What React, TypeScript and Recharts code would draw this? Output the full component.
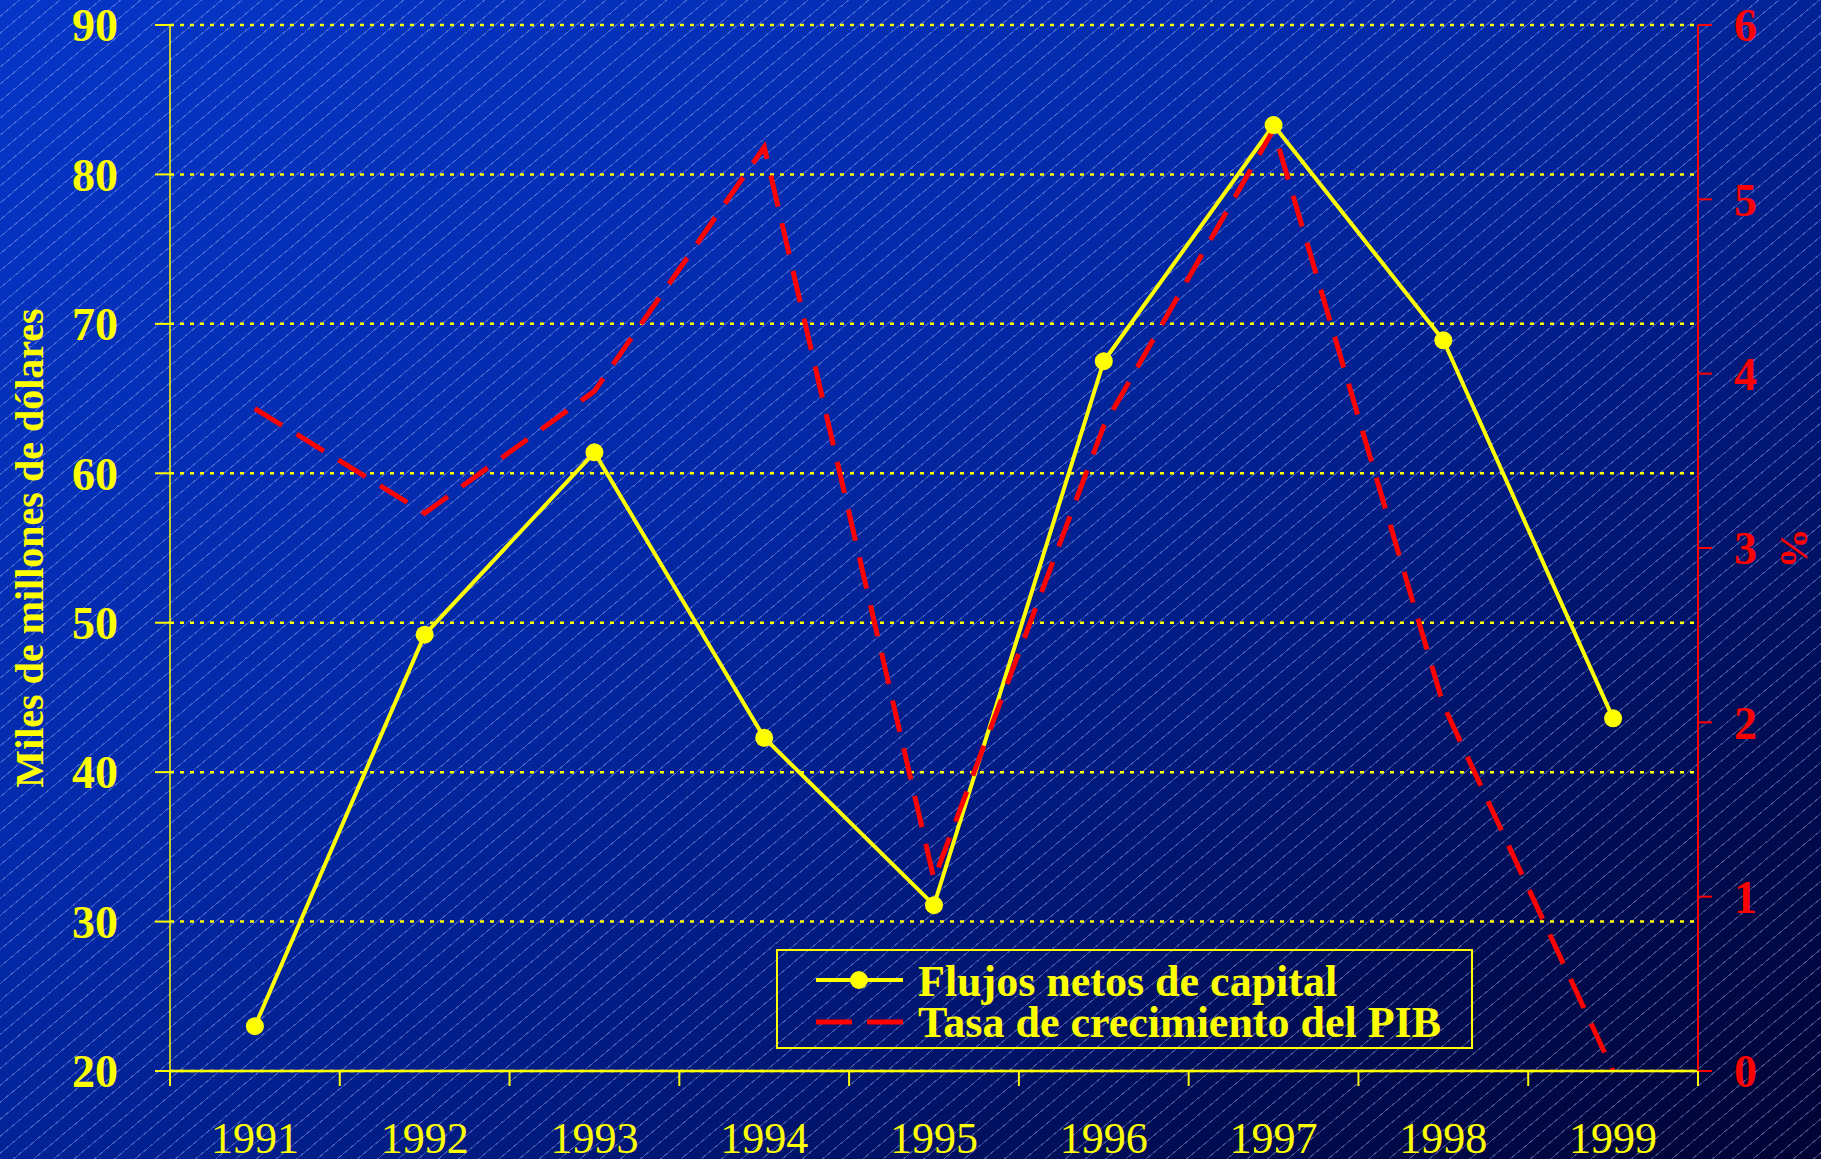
import * as React from 'react';
import { LineChart, Line, XAxis, YAxis, CartesianGrid, Legend } from 'recharts';

// values
const years = ['1991', '1992', '1993', '1994', '1995', '1996', '1997', '1998', '1999'];
const flujosNetos = [23.0, 49.2, 61.4, 42.3, 31.1, 67.5, 83.3, 68.9, 43.6];
const tasaPIB = [3.8, 3.2, 3.9, 5.3, 1.1, 3.7, 5.4, 2.1, 0.0];
const leftTicks = [20, 30, 40, 50, 60, 70, 80, 90];
const rightTicks = [0, 1, 2, 3, 4, 5, 6];

const data = years.map((year, i) => ({ year, flujos: flujosNetos[i], pib: tasaPIB[i] }));

const YELLOW = '#ffff00';
const RED = '#ff0000';
const SERIF = "'Liberation Serif', 'Times New Roman', serif";

const YearTick = (props: any) => {
  const { x, y, payload, index, visibleTicksCount } = props;
  const half = payload && payload.offset ? payload.offset : 85;
  return (
    <g>
      <line x1={x - half} x2={x - half} y1={y} y2={y + 15} stroke={YELLOW} strokeWidth={2} />
      {index === visibleTicksCount - 1 && (
        <line x1={x + half} x2={x + half} y1={y} y2={y + 15} stroke={YELLOW} strokeWidth={2} />
      )}
      <text x={x} y={y + 82} textAnchor="middle" fill={YELLOW} fontSize={44} fontFamily={SERIF}>
        {payload.value}
      </text>
    </g>
  );
};

const LeftTitle = (props: any) => {
  const vb = props.viewBox;
  const cx = vb.x + 29;
  const cy = vb.y + vb.height / 2;
  return (
    <text x={cx} y={cy} transform={`rotate(-90 ${cx} ${cy})`} textAnchor="middle" dominantBaseline="central"
      fill={YELLOW} fontSize={40} fontWeight="bold" fontFamily={SERIF}>
      Miles de millones de dólares
    </text>
  );
};

const RightTitle = (props: any) => {
  const vb = props.viewBox;
  const cx = vb.x + 96;
  const cy = vb.y + vb.height / 2;
  return (
    <text x={cx} y={cy} transform={`rotate(90 ${cx} ${cy})`} textAnchor="middle" dominantBaseline="central"
      fill={RED} fontSize={40} fontWeight="bold" fontFamily={SERIF}>
      %
    </text>
  );
};

const LegendBox = (props: any) => {
  const items = props.payload || [];
  return (
    <div style={{ width: 697, height: 100, border: `2px solid ${YELLOW}`, boxSizing: 'border-box' }}>
      <svg width={693} height={96} style={{ display: 'block' }}>
        {items.map((item: any, i: number) => {
          const cy = i === 0 ? 29 : 71;
          const dashed = i === 1;
          return (
            <g key={item.value}>
              <line x1={38} x2={125} y1={cy} y2={cy} stroke={item.color} strokeWidth={dashed ? 5 : 4}
                strokeDasharray={dashed ? '36 15' : undefined} />
              {!dashed && <circle cx={81} cy={cy} r={9} fill={item.color} />}
              <text x={140} y={i === 0 ? 45 : 86} fill={YELLOW} fontSize={44} fontWeight="bold" fontFamily={SERIF}>
                {item.value}
              </text>
            </g>
          );
        })}
      </svg>
    </div>
  );
};

export default function App() {
  return (
    <div
      style={{
        position: 'absolute',
        left: 0,
        top: 0,
        width: 1821,
        height: 1159,
        overflow: 'hidden',
        background:
          'repeating-linear-gradient(140deg, rgba(0,0,0,0) 0px, rgba(0,0,0,0) 12px, rgba(170,190,255,0.38) 12px, rgba(170,190,255,0.38) 13px), ' +
          'linear-gradient(to bottom right, #0636c8 0%, #0329a8 40%, #011b82 62%, #000c52 82%, #000233 100%)',
      }}
    >
      <LineChart width={1821} height={1159} data={data} margin={{ top: 25, right: 0, bottom: 0, left: 0 }}>
        <CartesianGrid yAxisId="left" vertical={false} stroke={YELLOW} strokeWidth={2.5} strokeDasharray="4 6" />
        <XAxis
          dataKey="year"
          scale="band"
          height={88}
          axisLine={{ stroke: YELLOW, strokeWidth: 2.5 }}
          tickLine={false}
          tickSize={0}
          tickMargin={0}
          interval={0}
          tick={<YearTick />}
        />
        <YAxis
          yAxisId="left"
          orientation="left"
          width={170}
          domain={[20, 90]}
          ticks={leftTicks}
          interval={0}
          axisLine={{ stroke: YELLOW, strokeWidth: 1.5 }}
          tickLine={{ stroke: YELLOW, strokeWidth: 2 }}
          tickSize={15}
          tickMargin={37}
          tick={{ fill: YELLOW, fontSize: 46, fontWeight: 'bold', fontFamily: SERIF }}
          label={<LeftTitle />}
        />
        <YAxis
          yAxisId="right"
          orientation="right"
          width={123}
          domain={[0, 6]}
          ticks={rightTicks}
          interval={0}
          axisLine={{ stroke: RED, strokeWidth: 2 }}
          tickLine={{ stroke: RED, strokeWidth: 2 }}
          tickSize={14}
          tickMargin={22}
          tick={{ fill: RED, fontSize: 46, fontWeight: 'bold', fontFamily: SERIF }}
          label={<RightTitle />}
        />
        <Legend
          layout="vertical"
          verticalAlign="middle"
          align="center"
          wrapperStyle={{ position: 'absolute', left: 776, top: 949, width: 697, height: 100 }}
          content={<LegendBox />}
        />
        <Line
          yAxisId="left"
          type="linear"
          dataKey="flujos"
          name="Flujos netos de capital"
          stroke={YELLOW}
          strokeWidth={4}
          dot={{ r: 9, fill: YELLOW, stroke: YELLOW, strokeWidth: 0 }}
          isAnimationActive={false}
        />
        <Line
          yAxisId="right"
          type="linear"
          dataKey="pib"
          name="Tasa de crecimiento del PIB"
          stroke={RED}
          strokeWidth={5}
          strokeDasharray="32 17"
          dot={false}
          isAnimationActive={false}
        />
      </LineChart>
    </div>
  );
}
